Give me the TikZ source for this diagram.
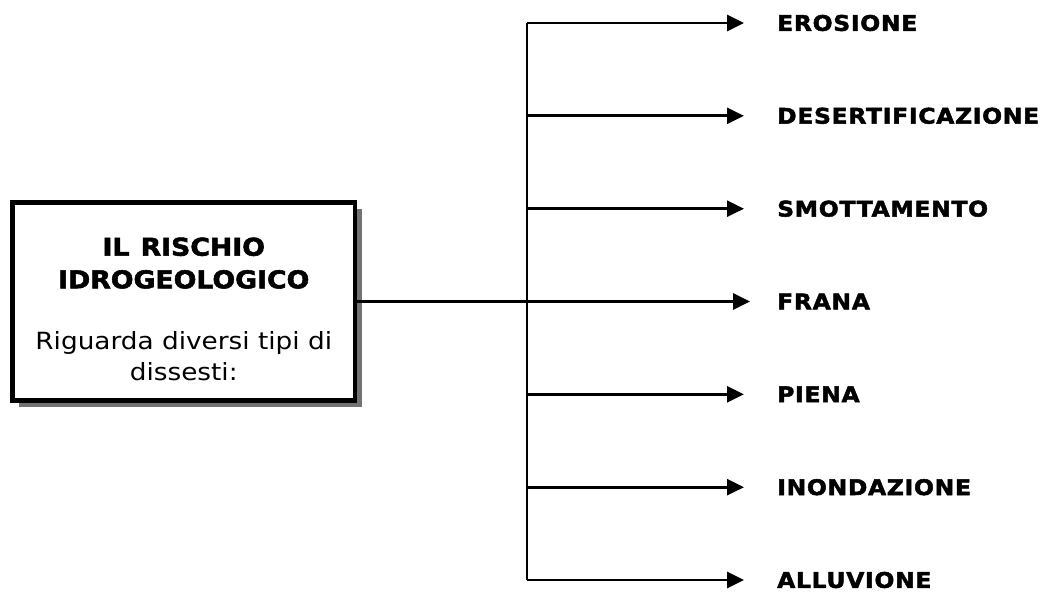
\documentclass[tikz,border=0pt]{standalone}
\usepackage{fontspec}
\setmainfont{DejaVu Sans}
\newfontfamily\boxfont[FakeStretch=1.11]{DejaVu Sans}
\newfontfamily\boxbold[FakeStretch=1.09,FakeBold=2.2,WordSpace=1.2]{DejaVu Sans Bold}
\newfontfamily\labfont[FakeStretch=1.09,LetterSpace=3.3,FakeBold=2.2]{DejaVu Sans Bold}
\usetikzlibrary{arrows.meta,shadows}
\tikzset{
  hub/.style={draw, line width=4.5pt, fill=white, minimum width=342.5pt, minimum height=198.2pt, inner sep=0pt,
    drop shadow={shadow xshift=6.5pt, shadow yshift=-6.5pt, fill=black!55, opacity=1}},
  headtxt/.style={anchor=base, inner sep=0pt, font=\boxbold\fontsize{24.5}{28}\selectfont},
  bodytxt/.style={anchor=base, inner sep=0pt, font=\boxfont\fontsize{23.7}{28}\selectfont},
  labtxt/.style={anchor=west, inner sep=0pt, font=\labfont\fontsize{21.5}{24}\selectfont},
  plain/.style={line width=2.8pt},
  arr/.style={line width=2.8pt, -{Triangle[length=17pt,width=16pt]}, shorten >=33pt},
}
\begin{document}
\begin{tikzpicture}[x=1pt,y=-1pt]
\useasboundingbox (0,0) rectangle (1045,592);
% box
\node[hub] (box) at (183.75,301.5) {};
\node[headtxt] (t1) at (183.75,255.7) {IL RISCHIO};
\node[headtxt] (t2) at (183.75,288.3) {IDROGEOLOGICO};
\node[bodytxt] (t3) at (183.75,349) {Riguarda diversi tipi di};
\node[bodytxt] (t4) at (183.75,380) {dissesti:};
% labels
\node[labtxt] (l1) at (777,23) {EROSIONE};
\node[labtxt] (l2) at (777,115.8) {DESERTIFICAZIONE};
\node[labtxt] (l3) at (777,208.7) {SMOTTAMENTO};
\node[labtxt] (l4) at (777,301.5) {FRANA};
\node[labtxt] (l5) at (777,394.3) {PIENA};
\node[labtxt] (l6) at (777,487.2) {INONDAZIONE};
\node[labtxt] (l7) at (777,580) {ALLUVIONE};
% spine
\coordinate (s1) at (527,23);
\coordinate (s2) at (527,115.8);
\coordinate (s3) at (527,208.7);
\coordinate (s5) at (527,394.3);
\coordinate (s6) at (527,487.2);
\coordinate (s7) at (527,580);
\draw[plain] (s1) -- (s7);
\draw[arr] (s1) -- (l1.west);
\draw[arr] (s2) -- (l2.west);
\draw[arr] (s3) -- (l3.west);
\draw[arr, shorten >=27pt] (box.east) -- (l4.west);
\draw[arr] (s5) -- (l5.west);
\draw[arr] (s6) -- (l6.west);
\draw[arr] (s7) -- (l7.west);
\end{tikzpicture}
\end{document}
